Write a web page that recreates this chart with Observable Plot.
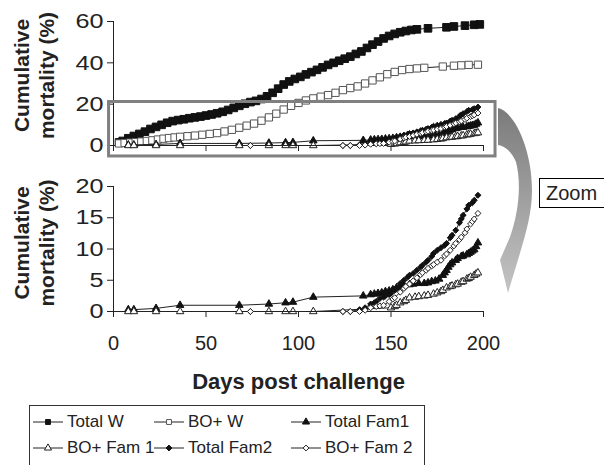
<!DOCTYPE html>
<html><head><meta charset="utf-8">
<script src="https://cdn.jsdelivr.net/npm/d3@7"></script>
<script src="https://cdn.jsdelivr.net/npm/@observablehq/plot@0.6"></script>
<style>
html,body{margin:0;padding:0;background:#fff;}
#wrap{position:relative;width:604px;height:465px;overflow:hidden;font-family:"Liberation Sans",Arial,sans-serif;color:#222;}
#top{position:absolute;left:0;top:0;}
#bot{position:absolute;left:0;top:165px;}
#zoomlbl{position:absolute;left:539px;top:178px;width:70px;height:30px;box-sizing:border-box;border:1px solid #000;font-size:20px;line-height:28px;padding-left:6px;}
#legend{position:absolute;left:29px;top:405px;width:396px;height:80px;box-sizing:border-box;border:1px solid #333;display:grid;grid-template-columns:121px 137px auto;grid-auto-rows:26px;padding:3px 0 0 3px;}
.item{display:flex;align-items:center;font-size:17px;white-space:nowrap;}
.item svg{margin-right:4px;flex:none;}
</style></head>
<body><div id="wrap">
<div id="top"></div>
<div id="bot"></div>
<div id="zoomlbl">Zoom</div>
<div id="legend"></div>
</div>
<script>
// ---- data ----
const seriesNames = ["Total W", "BO+ W", "Total Fam1", "BO+ Fam 1", "Total Fam2", "BO+ Fam 2"];
const xTicks = [0, 50, 100, 150, 200];
const yTicksTop = [0, 20, 40, 60];
const yTicksBot = [0, 5, 10, 15, 20];
const yLabel = "Cumulative\nmortality (%)";
const xLabel = "Days post challenge";

const totalWDay = [3,5,8,11,14,17,20,23,26,29,32,35,38,41,44,47,50,53,56,59,62,65,68,71,74,77,80,83,86,89,92,95,98,101,104,107,110,113,116,119,122,125,128,131,134,137,140,143,146,149,152,155,158,161,164,170,180,184,190,195,198];
const totalWPct = [1.5,2.2,3.5,4.6,5.6,6.7,8,9,10,11,11.8,12.3,12.7,13.2,13.6,14,14.5,15,15.6,16.3,17.2,18.2,19.2,20.2,21,21.6,22.5,23.8,25.5,27.5,29.5,31,32.2,33.2,34.4,35.5,36.6,37.8,39,40,41,42,43,44.3,45.5,47.2,48.8,50.3,51.8,53,54,54.8,55.4,55.9,56.2,56.7,57.2,57.6,58,58.4,58.6];

const boWDay = [3,6,9,12,15,18,21,24,27,30,33,36,40,44,48,52,56,60,64,68,72,76,80,84,88,92,96,100,104,108,112,116,120,124,128,132,136,140,144,148,152,156,160,164,168,178,184,188,192,197];
const boWPct = [1,1.2,1.4,1.6,1.9,2.2,2.5,2.9,3.3,3.6,3.9,4.2,4.5,4.8,5.2,5.6,6,6.8,7.6,8.6,9.6,10.6,12,13.6,15.4,17.4,19.2,20.6,21.8,22.8,23.6,24.4,25.5,26.8,27.8,28.6,30,31.5,33,34.5,35.6,36.5,37,37.3,37.6,38.2,38.6,38.8,39,39.1];

const totalF1Day = [8,11,23,36,68,84,93,97,108,135,139,141,143,145,147,149,151,153,155,157,160,162,165,168,170,172,174,176,178,179,180,181,182,183,185,186,188,189,191,192,193,194,195,196,197];
const totalF1Pct = [0.3,0.3,0.5,1.0,1.0,1.2,1.4,1.5,2.3,2.5,2.7,2.8,2.9,3.0,3.2,3.3,3.5,3.8,4.0,4.2,4.3,4.4,4.5,4.5,4.6,4.8,4.9,5.2,5.8,6.2,6.6,7.1,7.5,7.8,8.2,8.5,8.8,8.9,9.1,9.3,9.5,9.7,9.9,10.4,11];

const boF1Day = [8,11,23,36,68,84,93,97,108,150,152,153,155,157,158,160,163,165,168,170,173,175,177,178,180,182,183,185,186,188,189,191,192,193,195,196,197];
const boF1Pct = [0,0,0,0,0,0,0,0,0,0.6,0.8,1.0,1.4,1.6,1.8,2.2,2.3,2.4,2.5,2.6,2.8,3.0,3.2,3.4,3.8,4.0,4.1,4.3,4.4,4.7,4.8,5.2,5.3,5.5,5.8,6.0,6.2];

const totalF2Day = [74,124,128,133,136,139,141,142,144,146,147,149,150,152,153,155,157,159,160,162,164,166,167,169,170,172,173,175,177,179,180,182,183,185,187,188,189,191,192,194,195,197];
const totalF2Pct = [0,0,0,0.3,0.6,1.2,1.4,1.6,2.1,2.3,2.5,2.7,2.9,3.4,3.8,4.5,5.0,5.5,5.8,6.1,6.6,7.1,7.4,7.9,8.2,8.8,9.3,9.8,10.2,10.6,10.9,11.8,12.2,13,14.2,14.8,15.4,16.4,17,17.4,17.8,18.6];

const boF2Day = [74,124,128,133,136,139,142,144,146,149,151,152,155,157,158,160,162,164,166,167,169,170,172,173,175,177,179,180,182,184,185,187,188,190,191,193,194,195,197];
const boF2Pct = [0,0,0,0,0.2,0.6,0.8,0.9,1.0,1.6,2.0,2.2,3.1,3.7,4.0,4.4,4.9,5.4,5.9,6.2,6.6,6.9,7.3,7.5,7.9,8.2,8.9,9.2,9.8,10.5,10.9,11.5,11.9,12.6,13.2,14,14.4,14.8,15.7];

// zoom window drawn on the top panel (data units)
const zoomDays = [-2.4, 206.5];
const zoomPct = [-5.3, 21.05];

// ---- build ----
const allDays = [totalWDay, boWDay, totalF1Day, boF1Day, totalF2Day, boF2Day];
const allPct = [totalWPct, boWPct, totalF1Pct, boF1Pct, totalF2Pct, boF2Pct];
const series = seriesNames.map((name, i) => allDays[i].map((d, j) => ({day: d, pct: allPct[i][j], name})));

const styles = [
  {symbol: "square", fill: "#111", stroke: "#111", r: 4.3},
  {symbol: "square", fill: "#fff", stroke: "#555", r: 4.1},
  {symbol: "triangle", fill: "#111", stroke: "#111", r: 2.8},
  {symbol: "triangle", fill: "#fff", stroke: "#222", r: 2.8},
  {symbol: "diamond2", fill: "#111", stroke: "#111", r: 2.7},
  {symbol: "diamond2", fill: "#fff", stroke: "#222", r: 2.7}
];

const FONT = '"Liberation Sans", Arial, sans-serif';

function seriesMarks(indices) {
  const m = [];
  indices.forEach((i) => {
    const data = series[i];
    m.push(Plot.line(data, {x: "day", y: "pct", stroke: "#222", strokeWidth: 1}));
    m.push(Plot.dot(data, {x: "day", y: "pct", symbol: () => styles[i].symbol, r: styles[i].r, fill: styles[i].fill, stroke: styles[i].stroke, strokeWidth: 1}));
  });
  return m;
}

const symbolScale = {domain: ["square","triangle","diamond2"], range: ["square","triangle","diamond2"]};

const topChart = Plot.plot({
  width: 604, height: 165,
  marginLeft: 113, marginRight: 121, marginTop: 21, marginBottom: 20,
  style: {fontFamily: FONT, fontSize: "20px", background: "transparent", overflow: "visible", color: "#222"},
  x: {domain: [0, 200]},
  y: {domain: [0, 60]},
  symbol: symbolScale,
  marks: [
    Plot.axisY({ticks: yTicksTop, tickSize: 6, tickPadding: 4, fontSize: 21, label: null}),
    Plot.axisX({ticks: xTicks, tickSize: 6, tickFormat: () => "", label: null}),
    Plot.ruleX([0], {y1: 0, y2: 60, stroke: "#222"}),
    Plot.ruleY([0], {stroke: "#222"}),
    ...seriesMarks([0, 1, 2, 3, 4, 5]),
    Plot.rect([{x1: zoomDays[0], x2: zoomDays[1], y1: zoomPct[0], y2: zoomPct[1]}], {x1: "x1", x2: "x2", y1: "y1", y2: "y2", fill: "none", stroke: "#808080", strokeWidth: 3}),
    Plot.text([yLabel], {frameAnchor: "left", textAnchor: "middle", lineAnchor: "middle", rotate: -90, dx: -80, dy: -8, fontSize: 21, fontWeight: "bold", lineHeight: 1.2, fill: "#222"})
  ]
});
document.getElementById("top").append(topChart);

const botChart = Plot.plot({
  width: 604, height: 240,
  marginLeft: 113, marginRight: 121, marginTop: 21, marginBottom: 94,
  style: {fontFamily: FONT, fontSize: "20px", background: "transparent", overflow: "visible", color: "#222"},
  x: {domain: [0, 200]},
  y: {domain: [0, 20]},
  symbol: symbolScale,
  marks: [
    Plot.axisY({ticks: yTicksBot, tickSize: 6, tickPadding: 4, fontSize: 21, label: null}),
    Plot.axisX({ticks: xTicks, tickSize: 6, tickPadding: 18, fontSize: 20, label: null}),
    Plot.ruleX([0], {y1: 0, y2: 20, stroke: "#222"}),
    Plot.ruleY([0], {stroke: "#222"}),
    ...seriesMarks([2, 3, 4, 5]),
    Plot.text([yLabel], {frameAnchor: "left", textAnchor: "middle", lineAnchor: "middle", rotate: -90, dx: -80, dy: -6, fontSize: 21, fontWeight: "bold", lineHeight: 1.2, fill: "#222"}),
    Plot.text([xLabel], {frameAnchor: "bottom", textAnchor: "middle", lineAnchor: "middle", dy: 70, fontSize: 22, fontWeight: "bold", fill: "#222"})
  ]
});
document.getElementById("bot").append(botChart);

// widen the y tick labels a little, as in the reference
[topChart, botChart].forEach((svg) => {
  d3.select(svg).selectAll('g[aria-label="y-axis tick label"] text').each(function () {
    const t = this.getAttribute("transform") || "";
    this.setAttribute("transform", t + " scale(1.2,1)");
  });
});

// ---- curved "zoom" arrow (decoration) ----
const ov = d3.select("#wrap").append("svg")
  .attr("width", 604).attr("height", 465)
  .style("position", "absolute").style("left", 0).style("top", 0).style("pointer-events", "none");
const grad = ov.append("defs").append("linearGradient").attr("id", "ag")
  .attr("x1", 0).attr("y1", 0).attr("x2", 0).attr("y2", 1);
grad.append("stop").attr("offset", "0%").attr("stop-color", "#7b7b7b");
grad.append("stop").attr("offset", "100%").attr("stop-color", "#c4c4c4");
ov.append("path")
  .attr("d", "M498,108 C515,112 532,150 532,190 C532,220 522,245 508,293 L500,260 L510,237 C518,215 522,185 516,162 C512,152 505,146 498,145 Z")
  .attr("fill", "url(#ag)");

// ---- legend ----
const legend = d3.select("#legend");
seriesNames.forEach((name, i) => {
  const it = legend.append("div").attr("class", "item");
  const sw = it.append("svg").attr("width", 30).attr("height", 14);
  sw.append("line").attr("x1", 0).attr("x2", 30).attr("y1", 7).attr("y2", 7).attr("stroke", "#222").attr("stroke-width", 1);
  const sym = {square: d3.symbolSquare, triangle: d3.symbolTriangle, diamond2: d3.symbolDiamond2}[styles[i].symbol];
  sw.append("path").attr("d", d3.symbol(sym, styles[i].symbol === "square" ? 24 : 22)())
    .attr("transform", "translate(15,7)")
    .attr("fill", styles[i].fill).attr("stroke", styles[i].stroke).attr("stroke-width", 1);
  it.append("span").text(name);
});
</script>
</body></html>
